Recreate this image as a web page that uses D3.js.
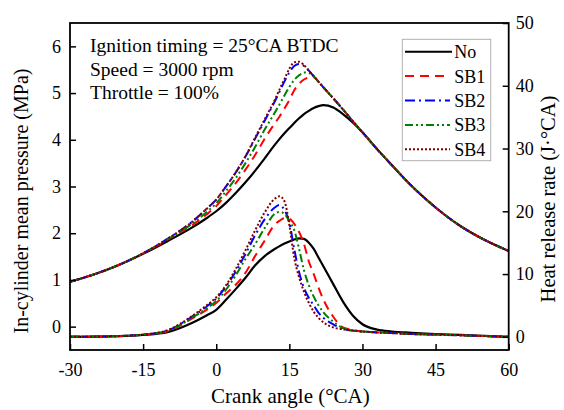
<!DOCTYPE html>
<html>
<head>
<meta charset="utf-8">
<script src="https://cdn.jsdelivr.net/npm/d3@7"></script>
<style>
  body { margin: 0; background: #fff; }
  svg { display: block; font-family: "Liberation Serif", "Times New Roman", serif; }
</style>
</head>
<body>
<svg width="564" height="410"></svg>
<script>
// crank angle grid (°CA)
var crankAngle = [-30,-25,-20,-15,-10,-5,-2,0,2,4,6,8,10,12,13,14,15,16,17,18,19,20,21,22,24,26,28,30,33,36,40,45,50,55,60];

// in-cylinder mean pressure (MPa)
var pNo  = [0.96,1.12,1.32,1.56,1.83,2.12,2.32,2.47,2.65,2.86,3.09,3.34,3.61,3.89,4.02,4.14,4.25,4.36,4.46,4.55,4.62,4.68,4.72,4.74,4.69,4.55,4.37,4.16,3.80,3.46,3.02,2.55,2.16,1.86,1.62];
var pSB1 = [0.96,1.12,1.32,1.57,1.86,2.17,2.40,2.58,2.82,3.07,3.36,3.68,4.03,4.35,4.50,4.67,4.85,5.06,5.20,5.29,5.33,5.34,5.24,5.12,4.89,4.65,4.40,4.16,3.80,3.46,3.02,2.55,2.16,1.86,1.62];
var pSB2 = [0.96,1.12,1.32,1.57,1.88,2.24,2.52,2.72,3.00,3.30,3.64,4.03,4.42,4.82,5.03,5.25,5.44,5.58,5.62,5.58,5.48,5.36,5.24,5.12,4.89,4.65,4.40,4.16,3.80,3.46,3.02,2.55,2.16,1.86,1.62];
var pSB3 = [0.96,1.12,1.32,1.57,1.87,2.20,2.45,2.64,2.90,3.18,3.50,3.85,4.23,4.58,4.76,4.95,5.13,5.28,5.38,5.44,5.43,5.36,5.24,5.12,4.89,4.65,4.40,4.16,3.80,3.46,3.02,2.55,2.16,1.86,1.62];
var pSB4 = [0.96,1.12,1.32,1.57,1.88,2.24,2.52,2.72,3.00,3.30,3.65,4.05,4.45,4.85,5.08,5.30,5.52,5.66,5.67,5.60,5.48,5.36,5.24,5.12,4.89,4.65,4.40,4.16,3.80,3.46,3.02,2.55,2.16,1.86,1.62];

// heat release rate (J/°CA)
var hNo  = [0,0.03,0.10,0.30,0.75,2.2,3.4,4.3,5.9,7.6,9.4,11.4,12.9,14.0,14.45,14.85,15.2,15.5,15.7,15.6,15.0,14.0,12.6,11.2,8.4,5.6,3.4,2.0,1.15,0.85,0.65,0.45,0.30,0.15,0];
var hSB1 = [0,0.03,0.11,0.33,0.90,2.9,4.3,5.4,6.9,8.3,10.2,12.9,15.4,17.9,18.5,18.9,18.8,18.0,16.7,14.8,12.0,10.0,7.8,5.9,3.2,1.5,1.1,0.85,0.7,0.6,0.45,0.35,0.25,0.12,0];
var hSB2 = [0,0.03,0.12,0.35,1.00,3.2,4.8,6.1,8.0,10.4,13.2,16.2,18.8,20.6,21.0,20.2,18.2,14.0,10.3,7.8,6.2,5.0,3.8,3.0,2.0,1.25,1.0,0.85,0.7,0.6,0.45,0.35,0.25,0.12,0];
var hSB3 = [0,0.03,0.12,0.34,0.95,3.0,4.5,5.7,7.5,9.8,12.4,14.8,17.4,19.6,19.9,19.6,18.4,17.0,14.0,10.6,8.2,6.4,5.0,3.9,2.4,1.4,1.0,0.85,0.7,0.6,0.45,0.35,0.25,0.12,0];
var hSB4 = [0,0.03,0.12,0.35,1.05,3.3,5.0,6.3,8.2,10.8,13.8,17.0,19.9,22.0,22.4,21.6,17.8,12.6,9.5,7.2,5.4,4.0,3.0,2.3,1.5,1.2,1.0,0.85,0.7,0.6,0.45,0.35,0.25,0.12,0];

var seriesNames = ["No","SB1","SB2","SB3","SB4"];
var pressure = [pNo, pSB1, pSB2, pSB3, pSB4];
var heatRelease = [hNo, hSB1, hSB2, hSB3, hSB4];
var colors = ["#000000","#ff0000","#0000ff","#008000","#800000"];
var dashes = [null, "9,6", "10,4,2,4", "8,3,2,3,2,3", "2,2"];

var xTicks = [-30,-15,0,15,30,45,60];
var pTicks = [0,1,2,3,4,5,6];
var hTicks = [0,10,20,30,40,50];

var notes = ["Ignition timing = 25°CA BTDC", "Speed = 3000 rpm", "Throttle = 100%"];

var svg = d3.select("svg");
// plot box in pixels (don't call these top/left, window.top is read only)
var plotL = 70, plotR = 508.7, plotT = 23, plotB = 350;

var x = d3.scaleLinear().domain([-30, 60]).range([plotL, plotR]);
var yP = d3.scaleLinear().domain([-0.5, 6.5]).range([plotB, plotT]);
var yH = d3.scaleLinear().domain([-2.1, 50]).range([plotB, plotT]);

svg.append("clipPath").attr("id", "plotClip")
  .append("rect")
  .attr("x", plotL).attr("y", plotT)
  .attr("width", plotR - plotL).attr("height", plotB - plotT);

// the lines
var plot = svg.append("g").attr("clip-path", "url(#plotClip)");

function drawSet(arrays, yScale) {
  arrays.forEach(function(vals, i) {
    var line = d3.line()
      .x(function(d, j) { return x(crankAngle[j]); })
      .y(function(d) { return yScale(d); })
      .curve(d3.curveMonotoneX);
    plot.append("path")
      .datum(vals)
      .attr("fill", "none")
      .attr("stroke", colors[i])
      .attr("stroke-width", i == 0 ? 2.2 : 2)
      .attr("stroke-dasharray", dashes[i])
      .attr("d", line);
  });
}
drawSet(pressure, yP);
drawSet(heatRelease, yH);

// axes (inward ticks), plain hyphen for negatives
var fmt = function(d) { return String(d); };

var xAxis = svg.append("g")
  .attr("transform", "translate(0," + plotB + ")")
  .call(d3.axisBottom(x).tickValues(xTicks).tickFormat(fmt).tickSizeInner(-6).tickSizeOuter(0).tickPadding(10));

var pAxis = svg.append("g")
  .attr("transform", "translate(" + plotL + ",0)")
  .call(d3.axisLeft(yP).tickValues(pTicks).tickFormat(fmt).tickSizeInner(-6).tickSizeOuter(0).tickPadding(9));

var hAxis = svg.append("g")
  .attr("transform", "translate(" + plotR + ",0)")
  .call(d3.axisRight(yH).tickValues(hTicks).tickFormat(fmt).tickSizeInner(-6).tickSizeOuter(0).tickPadding(7));

[xAxis, pAxis, hAxis].forEach(function(a) {
  a.selectAll(".domain").remove();
  a.selectAll("line").attr("stroke", "#000").attr("stroke-width", 1.5);
  a.selectAll("text").attr("font-size", "18px").attr("fill", "#000")
    .attr("font-family", "Liberation Serif, Times New Roman, serif");
});
xAxis.selectAll("text").attr("dy", "0.9em");

// frame
svg.append("rect")
  .attr("x", plotL).attr("y", plotT)
  .attr("width", plotR - plotL).attr("height", plotB - plotT)
  .attr("fill", "none").attr("stroke", "#000").attr("stroke-width", 1.8);

// axis titles
svg.append("text")
  .attr("x", (plotL + plotR) / 2 + 1).attr("y", 403)
  .attr("text-anchor", "middle").attr("font-size", "21px")
  .text("Crank angle (°CA)");

svg.append("text")
  .attr("transform", "translate(28,201) rotate(-90)")
  .attr("text-anchor", "middle").attr("font-size", "20px")
  .text("In-cylinder mean pressure (MPa)");

svg.append("text")
  .attr("transform", "translate(555,199) rotate(-90)")
  .attr("text-anchor", "middle").attr("font-size", "20.5px")
  .text("Heat release rate (J·°CA)");

// annotation text
notes.forEach(function(t, i) {
  svg.append("text")
    .attr("x", 90).attr("y", 52 + i * 23.5)
    .attr("font-size", "19.5px")
    .text(t);
});

// legend
var legend = svg.append("g");
legend.append("rect")
  .attr("x", 402.3).attr("y", 39.3)
  .attr("width", 88.4).attr("height", 121.4)
  .attr("fill", "#fff").attr("stroke", "#b0b0b0").attr("stroke-width", 1);

seriesNames.forEach(function(name, i) {
  var ly = 51.7 + i * 24.4;
  legend.append("line")
    .attr("x1", 405).attr("x2", i == 0 ? 452 : 450)
    .attr("y1", ly).attr("y2", ly)
    .attr("stroke", colors[i]).attr("stroke-width", 2)
    .attr("stroke-dasharray", dashes[i]);
  legend.append("text")
    .attr("x", 454.3).attr("y", ly + 6.5)
    .attr("font-size", "18px")
    .text(name);
});
</script>
</body>
</html>
